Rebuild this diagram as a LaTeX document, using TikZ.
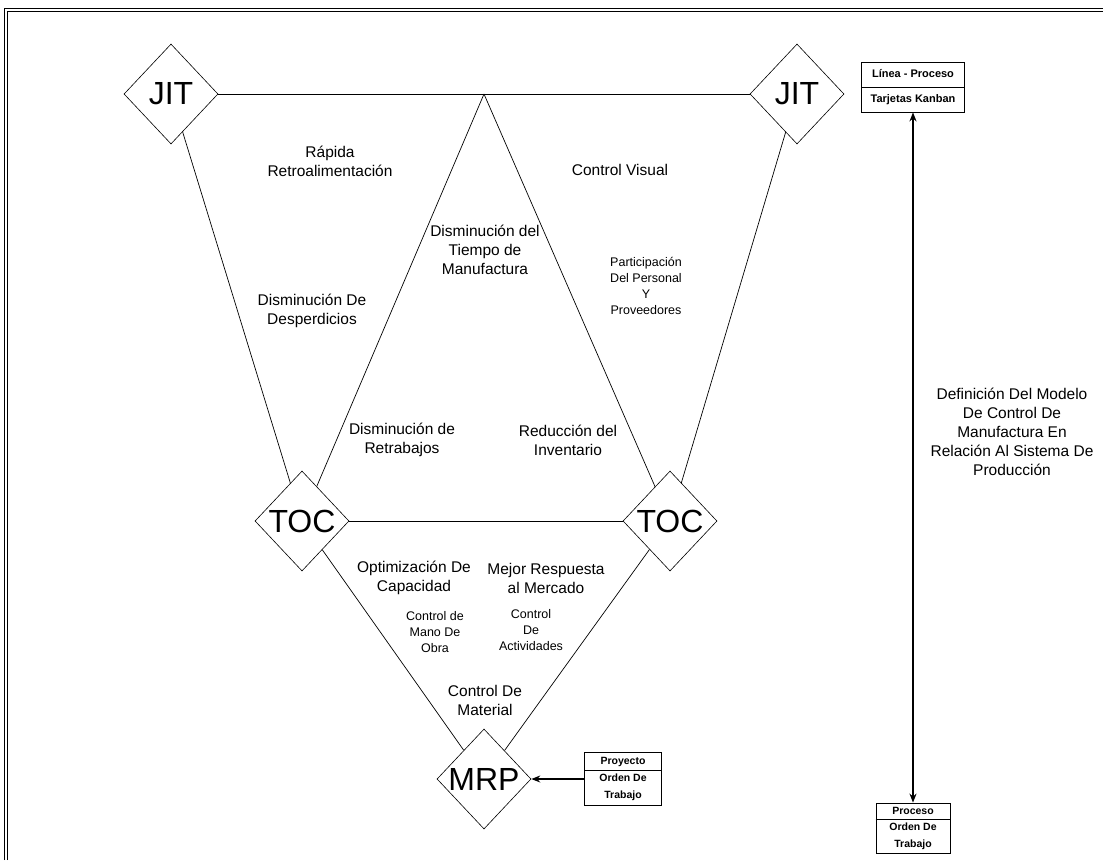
\documentclass[tikz,border=0pt]{standalone}
\usepackage{fontspec}
\setmainfont{Liberation Sans}
\usetikzlibrary{shapes.geometric,arrows.meta}
\begin{document}
\begin{tikzpicture}[x=1pt,y=-1pt,
  dia/.style={draw, diamond, minimum width=94pt, minimum height=100pt, inner sep=0pt, line width=0.6pt},
  big/.style={font=\fontsize{32}{34}\selectfont, inner sep=0pt},
  conn/.style={line width=0.7pt},
  lbl/.style={align=center, font=\fontsize{15.5}{19}\selectfont, inner sep=0pt},
  slbl/.style={align=center, font=\fontsize{12.5}{16}\selectfont, inner sep=0pt},
  boxx/.style={draw, line width=0.8pt, align=center, inner sep=0pt},
  darrow/.style={{Stealth[length=9pt,width=7pt]}-{Stealth[length=9pt,width=7pt]}, line width=2pt},
  sarrow/.style={-{Stealth[length=9pt,width=7pt]}, line width=1.3pt}
]
\useasboundingbox (0,0) rectangle (1103,860);
% frame
\draw[line width=0.6pt] (4,860) -- (4,8) -- (1103,8);
\draw[line width=0.6pt] (7,860) -- (7,11) -- (1103,11);

% diamonds
\node[dia, label={[big]center:JIT}] (jitL) at (171,94) {};
\node[dia, label={[big]center:JIT}] (jitR) at (797,94) {};
\node[dia, label={[big]center:TOC}] (tocL) at (302,521) {};
\node[dia, label={[big]center:TOC}] (tocR) at (670,521) {};
\node[dia, label={[big]center:MRP}] (mrp) at (484,779) {};
\coordinate (apex) at (484,94);

% connectors
\draw[conn] (jitL) -- (jitR);
\draw[conn] (jitL) -- (tocL);
\draw[conn] (jitR) -- (tocR);
\draw[conn] (apex) -- (tocL);
\draw[conn] (apex) -- (tocR);
\draw[conn] (tocL) -- (tocR);
\draw[conn] (tocL) -- (mrp);
\draw[conn] (tocR) -- (mrp);

% labels
\node[lbl] (l1) at (330,161) {Rápida\\Retroalimentación};
\node[lbl] (l2) at (620,170) {Control Visual};
\node[lbl] (l3) at (485,250) {Disminución del\\Tiempo de\\Manufactura};
\node[lbl] (l4) at (312,311) {Disminución De\\Desperdicios};
\node[slbl] (l5) at (646,286) {Participación\\Del Personal\\Y\\Proveedores};
\node[lbl] (l6) at (402,440) {Disminución de\\Retrabajos};
\node[lbl] (l7) at (568,440) {Reducción del\\Inventario};
\node[lbl] (l8) at (414,578) {Optimización De\\Capacidad};
\node[lbl] (l9) at (546,578) {Mejor Respuesta\\al Mercado};
\node[slbl] (l10) at (435,632) {Control de\\Mano De\\Obra};
\node[slbl] (l11) at (531,630) {Control\\De\\Actividades};
\node[lbl] (l12) at (485,700) {Control De\\Material};
\node[lbl] (def) at (1012,432) {Definición Del Modelo\\De Control De\\Manufactura En\\Relación Al Sistema De\\Producción};

% boxes
\node[boxx, minimum width=103pt, minimum height=50pt, font=\bfseries\fontsize{11}{25}\selectfont] (boxT) at (913,87) {Línea - Proceso\\Tarjetas Kanban};
\draw[line width=0.8pt] (boxT.west) -- (boxT.east);
\node[boxx, minimum width=74pt, minimum height=50pt, font=\bfseries\fontsize{10.5}{16.5}\selectfont] (boxB) at (913,828) {Proceso\\Orden De\\Trabajo};
\draw[line width=0.8pt] ([yshift=8.3pt]boxB.west) -- ([yshift=8.3pt]boxB.east);
\node[boxx, minimum width=77pt, minimum height=53pt, font=\bfseries\fontsize{10.5}{17}\selectfont] (boxM) at (623,779) {Proyecto\\Orden De\\Trabajo};
\draw[line width=0.8pt] ([yshift=9pt]boxM.west) -- ([yshift=9pt]boxM.east);

% arrows
\draw[darrow] (boxT.south) -- (boxB.north);
\draw[sarrow] (boxM.west) -- (mrp.east);
\end{tikzpicture}
\end{document}
